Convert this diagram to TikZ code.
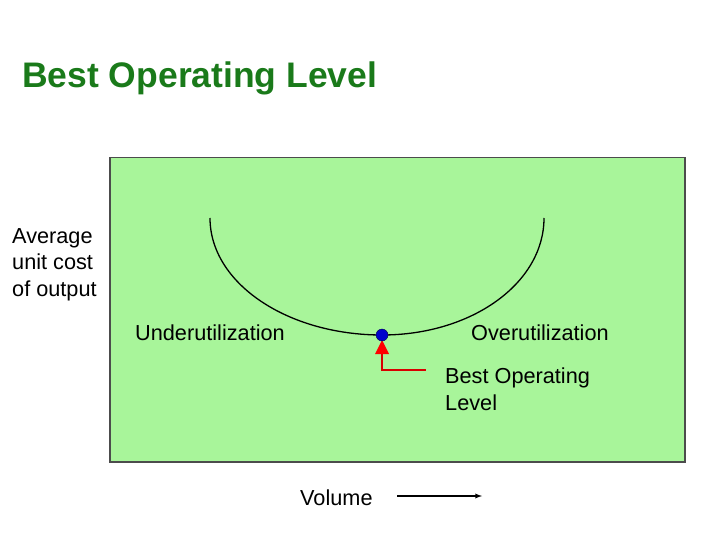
\documentclass[tikz,border=0pt]{standalone}
\usepackage{fontspec}
\setmainfont{Liberation Sans}
\definecolor{bg}{HTML}{A8F59A}
\definecolor{ttl}{HTML}{1A7A1A}
\begin{document}
\begin{tikzpicture}[x=1pt,y=-1pt,
  lbl/.style={font=\fontsize{21.7}{26.5}\selectfont,inner sep=0pt}]
\useasboundingbox (0,0) rectangle (720,540);
\node[anchor=base west,inner sep=0pt,text=ttl,font=\fontsize{35.5}{40}\selectfont\bfseries] (title) at (22,88) {Best Operating Level};
\node[draw=black!70,line width=1.5pt,fill=bg,minimum width=575pt,minimum height=304pt,anchor=north west,inner sep=0pt] (box) at (109,157) {};
\coordinate (c1) at (210,218);
\coordinate (m) at (382,335);
\coordinate (c2) at (544,218);
\draw[line width=1.3pt] (c1) .. controls (210,283) and (287,335) .. (m) .. controls (472,335) and (544,283) .. (c2);
\draw[red!85!black,line width=2pt] (382,352) -- (382,370) -- (426,370);
\fill[red] (382,340) -- (375,354) -- (389,354) -- cycle;
\node[circle,fill=blue!80!black,draw=black!70!blue,minimum size=12pt,inner sep=0pt] (dot) at (m) {};
\node[lbl,align=left,anchor=north west] (ylab) at (12,228) {Average\\unit cost\\of output};
\node[lbl,anchor=base west] (u) at (135,340) {Underutilization};
\node[lbl,anchor=base west] (o) at (471,340) {Overutilization};
\node[lbl,align=left,anchor=north west] (b) at (445,368) {Best Operating\\Level};
\node[lbl,anchor=base west] (v) at (300,505) {Volume};
\coordinate (a1) at (397,496);
\coordinate (a2) at (482,496);
\draw[-latex,line width=1.3pt] (a1) -- (a2);
\end{tikzpicture}
\end{document}
